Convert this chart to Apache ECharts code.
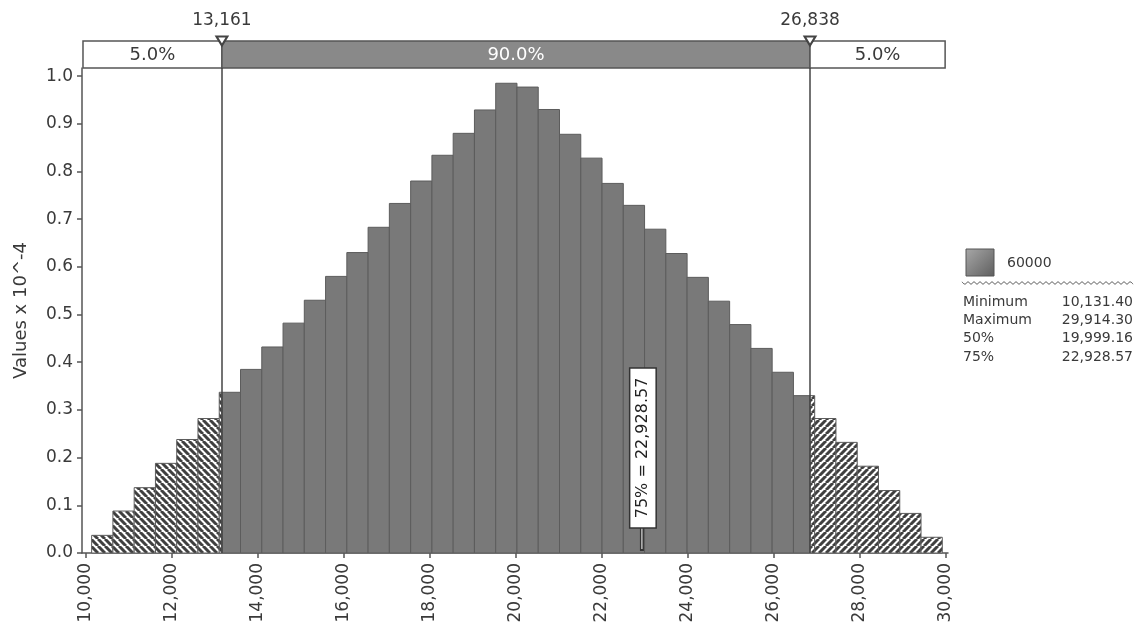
<!DOCTYPE html>
<html><head><meta charset="utf-8">
<script src="https://cdn.jsdelivr.net/npm/echarts@6/dist/echarts.min.js"></script>
<style>html,body{margin:0;padding:0;background:#fff}#c{width:1138px;height:634px}</style>
</head><body><div id="c"></div>
<script>
// ---------- data ----------
const seriesName = '60000';
const dataMin = 10131.40;
const dataMax = 29914.30;
const binCount = 40;
const binHeights = [0.037,0.088,0.137,0.188,0.238,0.282,0.337,0.385,0.432,0.482,
                    0.530,0.580,0.630,0.683,0.733,0.780,0.834,0.880,0.929,0.985,
                    0.977,0.930,0.878,0.828,0.775,0.729,0.679,0.628,0.578,0.528,
                    0.479,0.429,0.379,0.330,0.282,0.232,0.182,0.131,0.083,0.033];
const pLow = 13161, pHigh = 26838;
const pMarkerLabels = ['13,161', '26,838'];
const bandEdges = [9930, 13161, 26838, 29980];
const bandLabels = ['5.0%', '90.0%', '5.0%'];
const p75 = 22928.57;
const p75Label = '75% = 22,928.57';
const xTicks = [10000,12000,14000,16000,18000,20000,22000,24000,26000,28000,30000];
const yTicks = [0,0.1,0.2,0.3,0.4,0.5,0.6,0.7,0.8,0.9,1.0];
const xMin = 9907, xMax = 30047, yMax = 1.017;
const yAxisName = 'Values x 10^-4';
const statNames = ['Minimum', 'Maximum', '50%', '75%'];
const statValues = ['10,131.40', '29,914.30', '19,999.16', '22,928.57'];

// ---------- helpers ----------
const FONT = '"DejaVu Sans", Verdana, sans-serif';
const TXT = '#3a3a3a';
function hatch(back) {
  const s = 7;
  const c = document.createElement('canvas'); c.width = c.height = s;
  const g = c.getContext('2d');
  g.fillStyle = '#fff'; g.fillRect(0, 0, s, s);
  g.strokeStyle = '#404040'; g.lineWidth = 3;
  g.beginPath();
  for (let k = -s; k <= 2 * s; k += s) {
    if (back) { g.moveTo(k, 0); g.lineTo(k + s, s); }
    else { g.moveTo(k, s); g.lineTo(k + s, 0); }
  }
  g.stroke();
  return { image: c, repeat: 'repeat' };
}
const hatchL = hatch(true), hatchR = hatch(false);
const solidFill = '#797979';

const binW = (dataMax - dataMin) / binCount;
const histData = binHeights.map((h, i) => [dataMin + i * binW, dataMin + (i + 1) * binW, h]);
const bandData = bandLabels.map((l, i) => [bandEdges[i], bandEdges[i + 1]]);

function renderHist(params, api) {
  const a = api.value(0), b = api.value(1), h = api.value(2);
  const segs = [[a, Math.min(b, pLow), hatchL], [Math.max(a, pLow), Math.min(b, pHigh), solidFill], [Math.max(a, pHigh), b, hatchR]];
  const children = [];
  segs.forEach(([s, e, fill]) => {
    if (e <= s) return;
    const p0 = api.coord([s, h]), p1 = api.coord([e, 0]);
    children.push({ type: 'rect', shape: { x: p0[0], y: p0[1], width: p1[0] - p0[0], height: p1[1] - p0[1] },
      style: { fill: fill, stroke: '#5c5c5c', lineWidth: 1 } });
  });
  return { type: 'group', children };
}
function renderBand(params, api) {
  const i = params.dataIndex;
  const p0 = api.coord([api.value(0), 1]), p1 = api.coord([api.value(1), 0]);
  const mid = i === 1;
  return { type: 'group', children: [
    { type: 'rect', shape: { x: p0[0], y: p0[1], width: p1[0] - p0[0], height: p1[1] - p0[1] },
      style: { fill: mid ? '#898989' : '#fff', stroke: '#555', lineWidth: 1.5 } },
    { type: 'text', x: (p0[0] + p1[0]) / 2, y: (p0[1] + p1[1]) / 2 + 1,
      style: { text: bandLabels[i], fill: mid ? '#fff' : TXT, font: '18px ' + FONT, align: 'center', verticalAlign: 'middle' } }
  ] };
}
function renderP75(params, api) {
  const base = api.coord([api.value(0), 0]);
  const top = api.coord([api.value(0), 0.054]);
  return { type: 'group', children: [
    { type: 'rect', shape: { x: base[0] - 2, y: top[1], width: 4, height: base[1] - top[1] - 2 }, style: { fill: '#333' } },
    { type: 'rect', shape: { x: base[0] - 0.5, y: top[1], width: 1, height: base[1] - top[1] - 4 }, style: { fill: '#fff' } },
    { type: 'text', x: base[0] + 1, y: top[1], rotation: Math.PI / 2,
      style: { text: p75Label, fill: '#222', font: '16px ' + FONT, align: 'left', verticalAlign: 'middle',
        backgroundColor: '#fff', borderColor: '#333', borderWidth: 1.5, padding: [3, 9], lineHeight: 19 } }
  ] };
}

// ---------- legend / stats ----------
const wave = [];
for (let x = 962; x <= 1135; x += 3) wave.push([x, 283 + ((x - 962) / 3 % 2 === 0 ? -1.2 : 1.2)]);
const graphics = [
  { type: 'rect', shape: { x: 966, y: 249, width: 28, height: 27 },
    style: { fill: new echarts.graphic.LinearGradient(0, 0, 1, 1, [{ offset: 0, color: '#a8a8a8' }, { offset: 1, color: '#5e5e5e' }]), stroke: '#555', lineWidth: 1 } },
  { type: 'text', x: 1007, y: 263, style: { text: seriesName, fill: TXT, font: '14px ' + FONT, verticalAlign: 'middle' } },
  { type: 'polyline', shape: { points: wave, smooth: 0.5 }, style: { stroke: '#666', lineWidth: 1, fill: null } }
];
statNames.forEach((n, i) => {
  const y = 302 + i * 18.4;
  graphics.push({ type: 'text', x: 963, y: y, style: { text: n, fill: TXT, font: '14px ' + FONT, verticalAlign: 'middle' } });
  graphics.push({ type: 'text', x: 1133, y: y, style: { text: statValues[i], fill: TXT, font: '14px ' + FONT, align: 'right', verticalAlign: 'middle' } });
});

// ---------- chart ----------
const chart = echarts.init(document.getElementById('c'), null, { renderer: 'canvas' });
chart.setOption({
  animation: false,
  backgroundColor: '#fff',
  textStyle: { fontFamily: FONT },
  grid: [
    { left: 82, right: 190, top: 68, bottom: 81 },
    { left: 82, right: 190, top: 41, height: 27 }
  ],
  xAxis: [
    { type: 'value', gridIndex: 0, min: xMin, max: xMax,
      axisLine: { show: true, onZero: false, lineStyle: { color: '#555', width: 1.5 } },
      axisTick: { show: true, customValues: xTicks, length: 5, lineStyle: { color: '#555', width: 1.5 } },
      axisLabel: { customValues: xTicks, rotate: 90, margin: 10, color: TXT, fontSize: 17, fontFamily: FONT,
        formatter: v => Number(v).toLocaleString('en-US') },
      splitLine: { show: false } },
    { type: 'value', gridIndex: 1, min: xMin, max: xMax, show: false }
  ],
  yAxis: [
    { type: 'value', gridIndex: 0, min: 0, max: yMax,
      name: yAxisName, nameLocation: 'middle', nameGap: 52, nameRotate: 90,
      nameTextStyle: { color: TXT, fontSize: 18, fontFamily: FONT },
      axisLine: { show: true, lineStyle: { color: '#555', width: 1.5 } },
      axisTick: { show: true, customValues: yTicks, length: 5, lineStyle: { color: '#555', width: 1.5 } },
      axisLabel: { customValues: yTicks, color: TXT, fontSize: 17, fontFamily: FONT, margin: 9, formatter: v => Number(v).toFixed(1) },
      splitLine: { show: false } },
    { type: 'value', gridIndex: 1, min: 0, max: 1, show: false }
  ],
  series: [
    { type: 'custom', name: seriesName, xAxisIndex: 0, yAxisIndex: 0, renderItem: renderHist, data: histData,
      encode: { x: [0, 1], y: 2 }, silent: true },
    { type: 'line', xAxisIndex: 0, yAxisIndex: 0, data: [], silent: true,
      markLine: { symbol: 'none', silent: true, label: { show: false },
        lineStyle: { color: '#444', width: 1.5, type: 'solid' },
        data: [{ xAxis: pLow }, { xAxis: pHigh }] } },
    { type: 'custom', xAxisIndex: 0, yAxisIndex: 0, renderItem: renderP75, data: [[p75]], encode: { x: 0 }, silent: true, clip: false },
    { type: 'custom', xAxisIndex: 1, yAxisIndex: 1, renderItem: renderBand, data: bandData, encode: { x: [0, 1] }, silent: true, clip: false },
    { type: 'scatter', xAxisIndex: 1, yAxisIndex: 1, clip: false, silent: true,
      data: [[pLow, 1], [pHigh, 1]], symbol: 'triangle', symbolRotate: 180, symbolSize: [11, 9],
      itemStyle: { color: '#fff', borderColor: '#444', borderWidth: 2, opacity: 1 },
      label: { show: true, position: 'top', distance: 7, color: TXT, fontSize: 17, fontFamily: FONT,
        formatter: p => pMarkerLabels[p.dataIndex] } }
  ],
  graphic: graphics
});
</script>
</body></html>
